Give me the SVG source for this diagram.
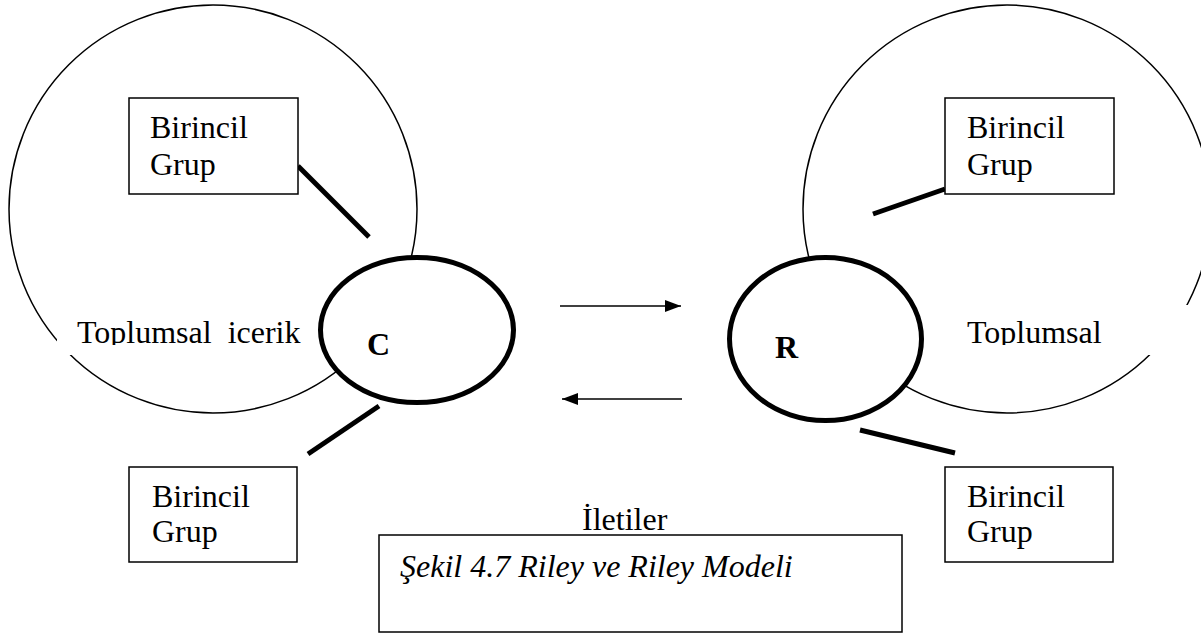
<svg xmlns="http://www.w3.org/2000/svg" width="1201" height="635" viewBox="0 0 1201 635">
  <style>
    .ctx { fill: none; stroke: #000; stroke-width: 1.5; }
    .box { fill: #fff; stroke: #000; stroke-width: 1.5; }
    .actor { fill: #fff; stroke: #000; stroke-width: 5; }
    .link { stroke: #000; stroke-width: 5; fill: none; }
    .flow { stroke: #000; stroke-width: 1.5; fill: none; }
    .t { font-family: "Liberation Serif", "Times New Roman", serif; font-size: 32px; fill: #000; }
    .b { font-weight: bold; }
    .i { font-style: italic; }
    .mask { fill: #fff; stroke: none; }
  </style>
  <defs>
    <marker id="arrow" viewBox="0 0 16 12" refX="16" refY="6" markerWidth="16" markerHeight="12" markerUnits="userSpaceOnUse" orient="auto">
      <path d="M0,0 L16,6 L0,12 Z" fill="#000"/>
    </marker>
    <clipPath id="clipLeftLabel"><rect x="57" y="300" width="255" height="45"/></clipPath>
    <clipPath id="clipRightLabel"><rect x="947" y="300" width="254" height="45"/></clipPath>
  </defs>

  <!-- social context: communicator side -->
  <g id="context-c">
    <circle class="ctx" cx="213" cy="209" r="204"/>
    <rect class="mask" x="57" y="305" width="255" height="50"/>
    <text class="t" x="77" y="343" clip-path="url(#clipLeftLabel)" xml:space="preserve">Toplumsal  icerik</text>
  </g>

  <!-- social context: receiver side -->
  <g id="context-r">
    <circle class="ctx" cx="1007" cy="209" r="204"/>
    <rect class="mask" x="947" y="305" width="254" height="50"/>
    <text class="t" x="967" y="343" clip-path="url(#clipRightLabel)">Toplumsal</text>
  </g>

  <!-- links between actors and primary groups, message arrows -->
  <g id="connectors">
    <line class="link" x1="298" y1="166" x2="369" y2="237"/>
    <line class="link" x1="379" y1="406" x2="308" y2="454"/>
    <line class="link" x1="945" y1="189" x2="873" y2="214"/>
    <line class="link" x1="860" y1="430" x2="955" y2="453"/>
    <line class="flow" x1="560" y1="306" x2="681" y2="306" marker-end="url(#arrow)"/>
    <line class="flow" x1="682" y1="399" x2="562" y2="399" marker-end="url(#arrow)"/>
  </g>

  <g id="node-c">
    <ellipse class="actor" cx="417" cy="330" rx="96.5" ry="72.5"/>
    <text class="t b" x="367" y="355">C</text>
  </g>

  <g id="node-r">
    <ellipse class="actor" cx="825.5" cy="339" rx="96" ry="81.5"/>
    <text class="t b" x="775" y="358">R</text>
  </g>

  <g id="group-c-top">
    <rect class="box" x="129" y="98" width="169" height="96"/>
    <text class="t" x="150" y="138">Birincil</text>
    <text class="t" x="150" y="175">Grup</text>
  </g>

  <g id="group-c-bottom">
    <rect class="box" x="129" y="467" width="168" height="95"/>
    <text class="t" x="152" y="507">Birincil</text>
    <text class="t" x="152" y="542">Grup</text>
  </g>

  <g id="group-r-top">
    <rect class="box" x="945" y="98" width="169" height="96"/>
    <text class="t" x="967" y="138">Birincil</text>
    <text class="t" x="967" y="175">Grup</text>
  </g>

  <g id="group-r-bottom">
    <rect class="box" x="945" y="467" width="168" height="95"/>
    <text class="t" x="967" y="507">Birincil</text>
    <text class="t" x="967" y="542">Grup</text>
  </g>

  <g id="messages-label">
    <text class="t" x="582" y="530">İletiler</text>
  </g>

  <g id="caption">
    <rect class="box" x="379" y="535" width="523" height="97"/>
    <text class="t i" x="400" y="577">Şekil 4.7 Riley ve Riley Modeli</text>
  </g>
</svg>
